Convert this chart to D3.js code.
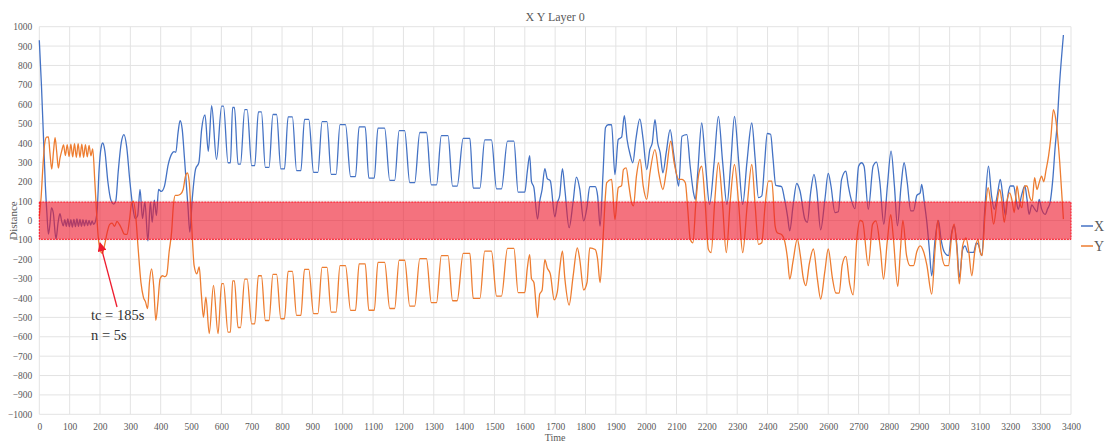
<!DOCTYPE html>
<html>
<head>
<meta charset="utf-8">
<script src="https://d3js.org/d3.v7.min.js"></script>
<style>
  html, body { margin: 0; padding: 0; background: #fff; }
  svg { display: block; font-family: "Liberation Serif", "DejaVu Serif", serif; }
</style>
</head>
<body>
<svg id="chart" width="1106" height="442"></svg>
<script>
// time axis ticks (s) and distance ticks
var timeTicks = d3.range(0, 3401, 100);
var distTicks = d3.range(-1000, 1001, 100);

var seriesNames = ["X", "Y"];
var seriesColors = ["#4472C4", "#ED7D31"];

// tolerance band
var band = [-97, 95];

// X  -> [time, distance]
var xSeries = [
  [0,930],[7,700],[14,420],[20,180],[25,40],[30,-70],[35,-20],[40,65],[46,40],[55,-95],[62,-10],[68,35],[74,-5],
  [79,-28],[84,5],[89,-30],[94,8],[99,-32],[104,5],[109,-34],[114,6],[119,-32],[124,8],[129,-30],[134,6],[139,-30],
  [144,4],[149,-28],[154,3],[159,-26],[164,0],[169,-24],[174,-2],[179,-20],[185,-5],
  [191,60],[197,260],[203,370],[209,400],[216,360],[226,200],[236,105],[245,85],[252,100],[260,250],[270,400],[279,443],
  [288,380],[298,210],[308,70],[316,10],[324,25],[332,160],[340,10],[348,95],[358,-105],[366,95],[372,-10],[379,105],
  [386,25],[393,160],[402,150],[412,175],[425,290],[437,345],[444,355],[450,352],[457,450],[464,515],[471,470],[478,330],
  [484,200],[490,70],[496,-60],[504,110],[515,265],[526,300],[535,470],[546,545],[557,357],[568,592],[584,315],
  [601,590],[607,590],[622,298],[630,298],[637,583],[643,583],[655,291],[663,291],[677,572],[685,572],[700,283],[710,283],
  [722,560],[732,560],[745,274],[757,274],[770,547],[782,547],[796,266],[808,266],[820,535],[834,535],[848,257],[862,257],
  [874,522],[888,522],[904,248],[918,248],[932,510],[948,510],[962,238],[978,238],[991,495],[1009,495],[1026,226],[1042,226],
  [1054,483],[1074,483],[1086,219],[1104,219],[1116,477],[1138,477],[1155,207],[1171,207],[1186,464],[1204,464],[1221,195],
  [1237,195],[1254,454],[1276,454],[1292,184],[1309,184],[1325,438],[1347,438],[1362,177],[1377,177],[1397,424],[1419,424],
  [1430,167],[1452,167],[1468,416],[1490,416],[1507,163],[1523,163],[1543,410],[1564,410],[1578,146],[1600,146],
  [1608,250],[1616,334],[1622,200],[1630,170],[1642,7],[1649,97],[1657,160],[1666,268],[1674,216],[1684,205],[1699,19],
  [1707,90],[1715,129],[1724,268],[1732,160],[1746,-37],[1759,94],[1770,224],[1781,163],[1794,-2],[1805,70],[1814,175],
  [1832,175],[1840,127],[1848,-29],[1858,250],[1866,480],[1875,494],[1886,494],[1897,237],[1908,418],[1919,430],[1928,541],
  [1937,418],[1947,341],[1956,298],[1966,418],[1979,524],[1990,418],[2002,263],[2012,366],[2020,400],[2029,520],[2038,400],
  [2046,350],[2055,246],[2066,350],[2079,469],[2090,350],[2099,246],[2107,177],[2118,435],[2134,443],[2145,280],[2156,143],
  [2162,109],[2170,250],[2183,503],[2195,300],[2209,83],[2224,300],[2238,537],[2252,300],[2266,83],[2279,300],[2291,537],
  [2305,300],[2318,83],[2332,300],[2348,503],[2359,320],[2370,118],[2381,127],[2390,290],[2399,449],[2410,445],[2418,320],
  [2427,181],[2446,175],[2456,110],[2466,20],[2473,-53],[2484,75],[2496,191],[2507,152],[2523,6],[2531,-10],[2542,144],
  [2553,238],[2562,160],[2575,-48],[2589,109],[2600,243],[2609,178],[2622,41],[2633,45],[2644,212],[2658,255],[2666,180],
  [2677,101],[2688,61],[2700,280],[2710,298],[2718,280],[2732,58],[2748,281],[2759,301],[2770,200],[2783,-19],[2795,180],
  [2807,358],[2818,180],[2828,-27],[2840,180],[2850,298],[2860,200],[2872,50],[2881,50],[2892,130],[2903,143],[2908,186],
  [2916,100],[2925,-10],[2933,-147],[2941,-285],[2952,-100],[2963,0],[2972,-100],[2983,-164],[2996,-181],[3007,-60],
  [3015,-27],[3024,-130],[3032,-293],[3043,-150],[3051,-131],[3060,-164],[3070,-164],[3079,-164],[3088,-115],[3095,-125],
  [3106,-181],[3116,60],[3128,281],[3138,130],[3147,58],[3157,130],[3167,212],[3175,130],[3184,24],[3192,130],[3200,178],
  [3211,178],[3219,110],[3226,58],[3237,130],[3248,178],[3255,110],[3262,32],[3271,80],[3280,60],[3288,45],[3295,109],
  [3303,60],[3315,32],[3323,60],[3331,92],[3340,212],[3348,383],[3353,469],[3362,700],[3375,957]
];

// Y -> [time, distance]
var ySeries = [
  [0,20],[6,120],[12,280],[18,400],[24,430],[30,431],[35,350],[41,265],[47,360],[52,428],[57,360],[63,270],[68,320],[74,360],
  [80,390],[86,335],[92,392],[98,330],[104,394],[110,328],[116,396],[122,326],[128,396],[134,326],
  [140,394],[146,326],[152,392],[158,328],[164,388],[170,334],[176,370],
  [183,200],[188,60],[194,-80],[200,-150],[208,-170],[216,-120],[224,-60],[232,-20],[240,-14],[248,-30],[256,-5],[264,-20],
  [272,-45],[280,-70],[289,-72],[297,0],[304,87],[310,100],[318,20],[326,-150],[335,-320],[343,-395],[350,-420],[357,-455],
  [363,-320],[370,-250],[377,-340],[384,-515],[391,-420],[398,-300],[406,-285],[414,-290],[420,-280],[428,-160],[436,-60],
  [442,80],[448,130],[456,130],[465,135],[474,160],[482,230],[488,245],[494,200],[500,40],[505,-110],[510,-230],[519,-275],
  [527,-240],[534,-380],[541,-500],[549,-395],[560,-583],[574,-335],[589,-584],
  [601,-326],[607,-326],[622,-576],[630,-576],[637,-312],[643,-312],[655,-552],[663,-552],[677,-302],[685,-302],[700,-533],
  [710,-533],[722,-285],[732,-285],[745,-516],[757,-516],[770,-278],[782,-278],[796,-507],[808,-507],[820,-262],[834,-262],
  [848,-490],[862,-490],[874,-252],[888,-252],[904,-481],[918,-481],[932,-242],[948,-242],[962,-473],[978,-473],[991,-233],
  [1009,-233],[1026,-464],[1042,-464],[1054,-224],[1074,-224],[1086,-463],[1104,-463],[1116,-216],[1138,-216],[1155,-454],
  [1171,-454],[1186,-205],[1204,-205],[1221,-442],[1237,-442],[1254,-197],[1276,-197],[1292,-424],[1309,-424],[1325,-181],
  [1347,-181],[1362,-414],[1377,-414],[1397,-170],[1419,-170],[1430,-402],[1452,-402],[1468,-158],[1490,-158],[1507,-390],
  [1523,-390],[1543,-144],[1564,-144],[1578,-372],[1600,-372],
  [1608,-250],[1616,-176],[1622,-300],[1630,-320],[1642,-501],[1649,-380],[1657,-360],[1666,-202],[1674,-245],[1684,-275],
  [1697,-410],[1707,-370],[1715,-250],[1724,-158],[1732,-300],[1746,-436],[1759,-290],[1773,-141],[1781,-200],[1794,-358],
  [1805,-320],[1814,-141],[1832,-150],[1840,-200],[1848,-320],[1856,-150],[1863,60],[1870,195],[1886,212],[1897,5],
  [1908,169],[1919,180],[1925,263],[1934,272],[1943,180],[1952,92],[1958,75],[1968,230],[1980,315],[1990,180],[2002,109],
  [2012,240],[2029,366],[2042,240],[2055,160],[2066,250],[2081,409],[2092,300],[2107,212],[2118,212],[2129,195],[2137,58],
  [2145,-97],[2154,-115],[2164,100],[2174,246],[2183,280],[2194,100],[2205,-149],[2214,-166],[2226,100],[2238,298],
  [2251,100],[2264,-166],[2277,100],[2291,289],[2305,80],[2318,-166],[2333,80],[2348,289],[2359,80],[2370,-123],[2381,-115],
  [2392,80],[2403,203],[2414,203],[2425,-29],[2432,-63],[2446,-72],[2457,-110],[2466,-200],[2473,-303],[2484,-210],
  [2498,-96],[2508,-180],[2518,-300],[2526,-336],[2538,-220],[2551,-147],[2564,-300],[2575,-405],[2589,-260],[2600,-147],
  [2614,-300],[2625,-374],[2636,-375],[2646,-230],[2658,-185],[2671,-330],[2682,-384],[2694,-100],[2705,0],[2713,-5],
  [2732,-233],[2746,-20],[2757,-2],[2772,-150],[2782,-302],[2795,-100],[2806,30],[2814,-80],[2829,-340],[2838,-150],
  [2846,0],[2858,-180],[2870,-233],[2881,-233],[2892,-160],[2903,-131],[2914,-160],[2925,-230],[2941,-380],[2952,-150],
  [2961,0],[2972,-160],[2985,-233],[2996,-233],[3008,-60],[3015,-19],[3024,-150],[3032,-327],[3043,-130],[3054,-90],
  [3063,-160],[3073,-285],[3083,-160],[3093,-97],[3100,-160],[3107,-181],[3117,40],[3127,169],[3136,80],[3145,-19],
  [3155,80],[3165,160],[3172,100],[3180,-10],[3189,100],[3198,143],[3206,100],[3213,41],[3222,178],[3230,100],[3238,66],
  [3247,178],[3255,178],[3264,120],[3272,100],[3280,221],[3288,160],[3295,195],[3303,229],[3310,200],[3318,263],[3326,332],
  [3334,435],[3342,572],[3350,520],[3363,298],[3375,7]
];

var svg = d3.select("#chart");
var margin = {left: 39.3, right: 35, top: 26.7, bottom: 27.7},
    width = 1106, height = 442;

var x = d3.scaleLinear().domain([0, 3400]).range([margin.left, width - margin.right]);
var y = d3.scaleLinear().domain([-1000, 1000]).range([height - margin.bottom, margin.top]);

var grey = "#595959";

// grid
svg.append("g")
  .selectAll("line")
  .data(timeTicks)
  .enter().append("line")
    .attr("x1", function(d) { return x(d); })
    .attr("x2", function(d) { return x(d); })
    .attr("y1", y(1000))
    .attr("y2", y(-1000))
    .attr("stroke", "#e3e3e3")
    .attr("stroke-width", 1);

svg.append("g")
  .selectAll("line")
  .data(distTicks)
  .enter().append("line")
    .attr("x1", x(0))
    .attr("x2", x(3400))
    .attr("y1", function(d) { return y(d); })
    .attr("y2", function(d) { return y(d); })
    .attr("stroke", "#e3e3e3")
    .attr("stroke-width", 1);

// axes (labels only, no domain line)
var xAxis = svg.append("g")
  .attr("transform", "translate(0," + y(-1000) + ")")
  .call(d3.axisBottom(x).tickValues(timeTicks).tickSize(0).tickPadding(9).tickFormat(d3.format("d")));
var yAxis = svg.append("g")
  .attr("transform", "translate(" + x(0) + ",0)")
  .call(d3.axisLeft(y).tickValues(distTicks).tickSize(0).tickPadding(7).tickFormat(d3.format("d")));

[xAxis, yAxis].forEach(function(a) {
  a.select(".domain").remove();
  a.selectAll("text")
    .attr("fill", grey)
    .style("font-family", "Liberation Serif, serif")
    .style("font-size", "9.5px");
});

// lines
var line = d3.line()
  .x(function(d) { return x(d[0]); })
  .y(function(d) { return y(d[1]); })
  .curve(d3.curveMonotoneX);

[xSeries, ySeries].forEach(function(s, i) {
  svg.append("path")
    .datum(s)
    .attr("fill", "none")
    .attr("stroke", seriesColors[i])
    .attr("stroke-width", 1.3)
    .attr("stroke-linejoin", "round")
    .attr("d", line);
});

// red band drawn over the lines
svg.append("rect")
  .attr("x", x(0))
  .attr("y", y(band[1]))
  .attr("width", x(3400) - x(0))
  .attr("height", y(band[0]) - y(band[1]))
  .attr("fill", "#ee1c2e")
  .attr("fill-opacity", 0.62)
  .attr("stroke", "#ff1020")
  .attr("stroke-width", 1)
  .attr("stroke-dasharray", "2,1");

// title + axis titles
svg.append("text")
  .attr("x", (x(0) + x(3400)) / 2)
  .attr("y", 21)
  .attr("text-anchor", "middle")
  .attr("fill", grey)
  .style("font-size", "12px")
  .text("X Y Layer 0");

svg.append("text")
  .attr("x", (x(0) + x(3400)) / 2)
  .attr("y", 441)
  .attr("text-anchor", "middle")
  .attr("fill", grey)
  .style("font-size", "10px")
  .text("Time");

svg.append("text")
  .attr("transform", "translate(17," + y(0) + ") rotate(-90)")
  .attr("text-anchor", "middle")
  .attr("fill", grey)
  .style("font-size", "11px")
  .text("Distance");

// legend
var legend = svg.append("g");
seriesNames.forEach(function(n, i) {
  var ly = 226 + i * 20;
  legend.append("line")
    .attr("x1", 1081).attr("x2", 1093)
    .attr("y1", ly).attr("y2", ly)
    .attr("stroke", seriesColors[i])
    .attr("stroke-width", 1.5);
  legend.append("text")
    .attr("x", 1094)
    .attr("y", ly + 5)
    .attr("fill", grey)
    .style("font-size", "14px")
    .text(n);
});

// annotation arrow
svg.append("defs").append("marker")
  .attr("id", "arrow")
  .attr("viewBox", "0 0 10 10")
  .attr("refX", 9).attr("refY", 5)
  .attr("markerWidth", 7).attr("markerHeight", 7)
  .attr("orient", "auto")
  .append("path")
    .attr("d", "M0,0 L10,5 L0,10 z")
    .attr("fill", "#ee1c2e");

svg.append("line")
  .attr("x1", 117).attr("y1", 307)
  .attr("x2", 100).attr("y2", 243)
  .attr("stroke", "#ee1c2e")
  .attr("stroke-width", 1.3)
  .attr("marker-end", "url(#arrow)");

var note = svg.append("text")
  .attr("fill", "#333")
  .style("font-size", "14.5px");
note.append("tspan").attr("x", 91).attr("y", 320).text("tc = 185s");
note.append("tspan").attr("x", 91).attr("y", 340).text("n = 5s");
</script>
</body>
</html>
